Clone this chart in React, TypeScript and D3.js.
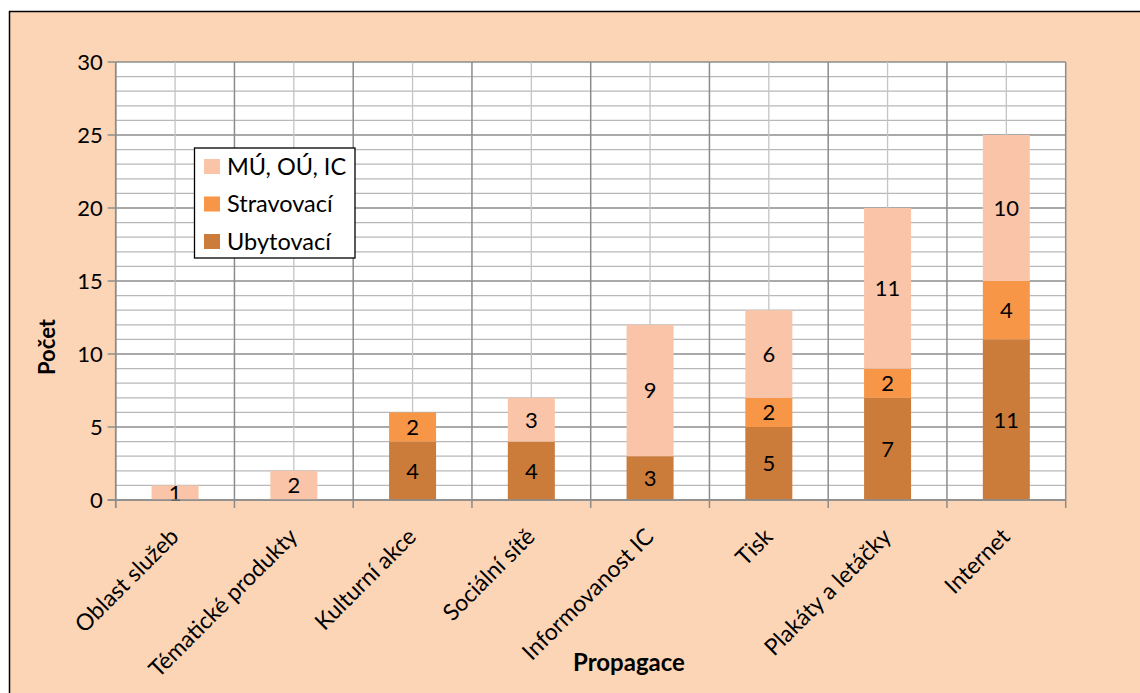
import React from "react";
import * as d3 from "d3";

const categories = [
  "Oblast služeb",
  "Tématické produkty",
  "Kulturní akce",
  "Sociální sítě",
  "Informovanost IC",
  "Tisk",
  "Plakáty a letáčky",
  "Internet",
];
const ubytovaci = [0, 0, 4, 4, 3, 5, 7, 11];
const stravovaci = [0, 0, 2, 0, 0, 2, 2, 4];
const muOuIc = [1, 2, 0, 3, 9, 6, 11, 10];
const seriesNames = ["Ubytovací", "Stravovací", "MÚ, OÚ, IC"];
const seriesColors = ["#CB7B3A", "#F79646", "#F9C4A8"];
const yTicks = [0, 5, 10, 15, 20, 25, 30];

const W = 1140;
const H = 693;
const FONT = "Lato, 'Open Sans', sans-serif";
const FS = 23;

export default function App() {
  const left = 115.7;
  const right = 1065.7;
  const top = 62;
  const bottom = 500;

  const x = d3.scaleBand<string>().domain(categories).range([left, right]).paddingInner(0).paddingOuter(0);
  const y = d3.scaleLinear().domain([0, 30]).range([bottom, top]);
  const barW = 47;

  const table = categories.map((c, i) => ({
    cat: c,
    s0: ubytovaci[i],
    s1: stravovaci[i],
    s2: muOuIc[i],
  }));
  const stack = d3.stack<any>().keys(["s0", "s1", "s2"])(table);

  const minor = d3.range(0, 31, 1);
  const bw = x.bandwidth();

  return (
    <div style={{ position: "absolute", left: 0, top: 0 }}>
      <svg width={W} height={H} style={{ display: "block", background: "#fff" }} fontFamily={FONT}>
        <rect x={9.5} y={11.5} width={W} height={H} fill="#FBD5B5" stroke="#000" strokeWidth={1.5} />
        <rect x={left} y={top} width={right - left} height={bottom - top} fill="#fff" />
        {minor.map((v) => (
          <line key={"h" + v} x1={left} x2={right} y1={y(v)} y2={y(v)}
            stroke={v % 5 === 0 ? "#8C8C8C" : "#B8B8B8"} strokeWidth={v % 5 === 0 ? 1.5 : 1.3} />
        ))}
        {categories.map((c) => (
          <line key={"vc" + c} x1={x(c)! + bw / 2} x2={x(c)! + bw / 2} y1={top} y2={bottom} stroke="#C4C4C4" strokeWidth={1.3} />
        ))}
        {categories.concat(["__end"]).map((c, i) => {
          const xx = i < categories.length ? x(c)! : right;
          return <line key={"vb" + i} x1={xx} x2={xx} y1={top} y2={bottom + 8} stroke="#8C8C8C" strokeWidth={1.5} />;
        })}
        {stack.map((layer, si) =>
          layer.map((d, i) => {
            const h = y(d[0]) - y(d[1]);
            if (h <= 0) return null;
            const cx = x(categories[i])! + bw / 2;
            return <rect key={si + "-" + i} x={cx - barW / 2} y={y(d[1])} width={barW} height={h} fill={seriesColors[si]} />;
          })
        )}
        {stack.map((layer, si) =>
          layer.map((d, i) => {
            const v = d[1] - d[0];
            if (v <= 0) return null;
            const cx = x(categories[i])! + bw / 2;
            return (
              <text key={"l" + si + "-" + i} x={cx} y={(y(d[0]) + y(d[1])) / 2} dy="0.36em" textAnchor="middle" fontSize={FS - 1} fill="#000">
                {v}
              </text>
            );
          })
        )}
        <line x1={left} x2={left} y1={top} y2={bottom + 8} stroke="#8C8C8C" strokeWidth={1.5} />
        <line x1={left - 8} x2={right} y1={bottom} y2={bottom} stroke="#8C8C8C" strokeWidth={1.5} />
        {yTicks.map((t) => (
          <g key={"yt" + t}>
            <line x1={left - 8} x2={left} y1={y(t)} y2={y(t)} stroke="#8C8C8C" strokeWidth={1.5} />
            <text x={left - 13} y={y(t)} dy="0.36em" textAnchor="end" fontSize={FS - 1} fill="#000">{t}</text>
          </g>
        ))}
        {categories.map((c) => {
          const cx = x(c)! + bw / 2 - 3;
          return (
            <text key={"xl" + c} transform={`translate(${cx},${bottom + 30}) rotate(-45)`} textAnchor="end" dy="0.5em" fontSize={FS} fill="#000">
              {c}
            </text>
          );
        })}
        <text transform={`translate(55,347) rotate(-90)`} textAnchor="middle" fontSize={FS - 1} fontWeight="bold">Počet</text>
        <text x={629} y={671} textAnchor="middle" fontSize={24} fontWeight="bold">Propagace</text>
        <rect x={194.5} y={148} width={160.5} height={110} fill="#fff" stroke="#000" strokeWidth={1.3} />
        {[2, 1, 0].map((si, k) => (
          <g key={"lg" + si}>
            <rect x={204} y={159 + k * 37.5} width={16} height={15} fill={seriesColors[si]} />
            <text x={227} y={166.5 + k * 37.5} dy="0.36em" fontSize={23.5}>{seriesNames[si]}</text>
          </g>
        ))}
      </svg>
    </div>
  );
}
